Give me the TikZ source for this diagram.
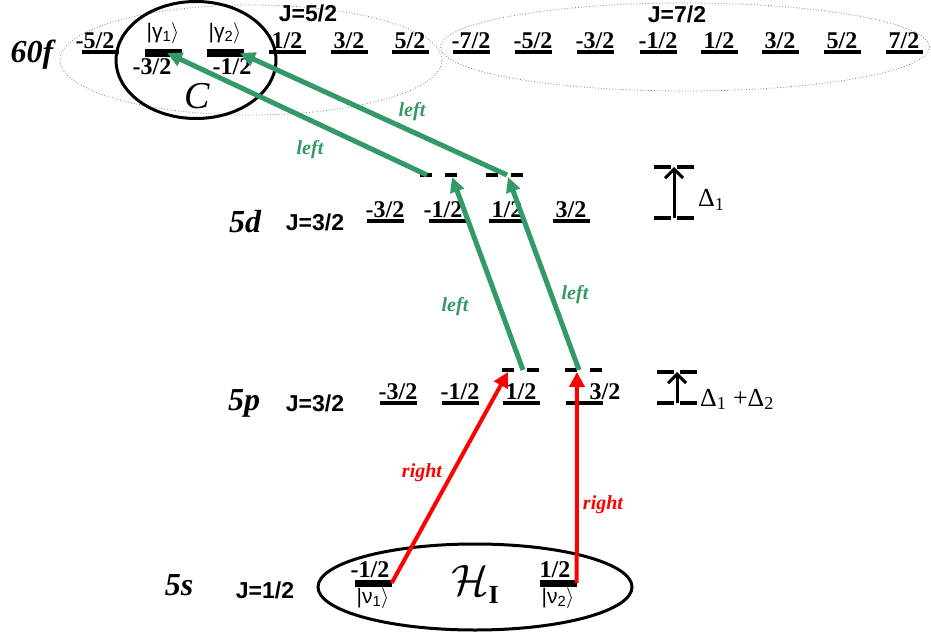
\RequirePackage{fix-cm}
\documentclass[tikz,border=0pt]{standalone}
\usepackage{fontspec}
\setmainfont{Liberation Serif}
\setsansfont{Liberation Sans}
\usepackage{tikz}
\usetikzlibrary{shapes.geometric,arrows.meta,positioning}
\definecolor{lgreen}{RGB}{51,153,102}
\tikzset{
  lev/.style={fill=black,inner sep=0pt,minimum width=37pt,minimum height=4pt},
  hbar/.style={fill=black,inner sep=0pt,minimum width=37pt,minimum height=8pt},
  mj/.style={font=\bfseries\fontsize{24}{24}\selectfont,inner sep=1pt},
  ket/.style={font=\sffamily\fontsize{21}{21}\selectfont,inner sep=1pt},
  jlab/.style={font=\sffamily\bfseries\fontsize{23}{23}\selectfont,inner sep=0pt,anchor=base},
  shell/.style={font=\bfseries\itshape\fontsize{32}{32}\selectfont,inner sep=0pt,anchor=base},
  vlev/.style={line width=4pt,dash pattern=on 12pt off 13pt},
  gapl/.style={line width=4pt,dash pattern=on 17pt off 6pt},
  grp/.style={draw,ellipse,line width=3pt,inner sep=0pt},
  zone/.style={draw=gray,ellipse,dotted,line width=0.8pt,inner sep=0pt},
  garr/.style={-{Triangle[length=15pt,width=14pt]},line width=5pt,lgreen},
  rarr/.style={-{Triangle[length=15pt,width=15pt]},line width=4pt,red},
  darr/.style={-{Straight Barb[length=9pt,width=18pt]},line width=3pt},
  pol/.style={font=\bfseries\itshape\fontsize{20}{20}\selectfont,inner sep=0pt},
  dlab/.style={font=\fontsize{26}{26}\selectfont,inner sep=0pt,anchor=base west},
}

\begin{document}
\begin{tikzpicture}[x=1pt,y=-1pt]
  \useasboundingbox (0,0) rectangle (931,639);
  %% groups
  \node[zone,minimum width=382pt,minimum height=110pt] (z52) at (251,60) {};
  \node[zone,minimum width=489pt,minimum height=88pt]  (z72) at (685,47) {};
  \node[grp,minimum width=160pt,minimum height=117pt]  (cset) at (196,60) {};
  \node[grp,minimum width=314pt,minimum height=86pt]   (hset) at (475,587) {};
  \node[font=\itshape\fontsize{38}{38}\selectfont] (clab) at (197,96) {C};
  \node (hlab) at (475,584) {\fontsize{44}{44}\selectfont$\mathcal{H}$\raisebox{-8pt}{\bfseries\fontsize{26}{26}\selectfont I}};

  %% shell names
  \node[shell] (n60f) at (32,63)  {60f};
  \node[shell] (n5d)  at (245,232) {5d};
  \node[shell] (n5p)  at (244,410) {5p};
  \node[shell] (n5s)  at (179,595) {5s};
  \node[jlab]  (j52)  at (308,22)  {J=5/2};
  \node[jlab]  (j72)  at (677,23)  {J=7/2};
  \node[jlab]  (j5d)  at (315,230) {J=3/2};
  \node[jlab]  (j5p)  at (315,411) {J=3/2};
  \node[jlab]  (j5s)  at (265,598) {J=1/2};

  %% 60f, J=5/2
  \node[lev,label={[mj,xshift=-5pt]above:-5/2}] (fa1) at (100,52) {};
  \node[hbar,label={[ket,label distance=4pt]above:|γ\textsubscript{1}$\rangle$},
        label={[mj,xshift=-11pt]below:-3/2}]     (g1)  at (163,53) {};
  \node[hbar,label={[ket,label distance=4pt]above:|γ\textsubscript{2}$\rangle$},
        label={[mj,xshift=7pt]below:-1/2}]       (g2)  at (225,53) {};
  \node[lev,label={[mj]above:1/2}] (fa4) at (287,52) {};
  \node[lev,label={[mj]above:3/2}] (fa5) at (349,52) {};
  \node[lev,label={[mj]above:5/2}] (fa6) at (410,52) {};
  %% 60f, J=7/2
  \node[lev,label={[mj]above:-7/2}] (fb1) at (471,52) {};
  \node[lev,label={[mj]above:-5/2}] (fb2) at (533,52) {};
  \node[lev,label={[mj]above:-3/2}] (fb3) at (595,52) {};
  \node[lev,label={[mj]above:-1/2}] (fb4) at (658,52) {};
  \node[lev,label={[mj]above:1/2}]  (fb5) at (719,52) {};
  \node[lev,label={[mj]above:3/2}]  (fb6) at (780,52) {};
  \node[lev,label={[mj]above:5/2}]  (fb7) at (842,52) {};
  \node[lev,label={[mj]above:7/2}]  (fb8) at (904,52) {};
  %% 5d
  \node[lev,label={[mj]above:-3/2}]            (d1) at (385,221) {};
  \node[lev,label={[mj,xshift=-4pt]above:-1/2}] (d2) at (447,221) {};
  \node[lev,label={[mj]above:1/2}]             (d3) at (507,221) {};
  \node[lev,label={[mj]above:3/2}]             (d4) at (571,221) {};
  \draw[vlev] (420,175) -- ++(37,0);
  \draw[vlev] (486,175) -- ++(37,0);
  %% 5p
  \node[lev,label={[mj]above:-3/2}]             (p1) at (398,403) {};
  \node[lev,label={[mj]above:-1/2}]             (p2) at (460,403) {};
  \node[lev,label={[mj]above:1/2}]              (p3) at (521,403) {};
  \node[lev,label={[mj,xshift=21pt]above:3/2}]  (p4) at (584,403) {};
  \draw[vlev] (502,370) -- ++(37,0);
  \draw[vlev] (565,370) -- ++(37,0);
  %% 5s
  \node[hbar,minimum height=7pt,label={[mj,xshift=-3pt]above:-1/2},
        label={[ket]below:|ν\textsubscript{1}$\rangle$}] (nu1) at (373,583) {};
  \node[hbar,minimum height=7pt,label={[mj,xshift=-3pt]above:1/2},
        label={[ket]below:|ν\textsubscript{2}$\rangle$}] (nu2) at (558,583) {};

  %% detunings
  \draw[gapl] (654,167) -- ++(40,0);
  \draw[gapl] (654,218) -- ++(40,0);
  \coordinate (da0) at (674,218);
  \coordinate (da1) at (674,167);
  \draw[darr] (da0) -- (da1);
  \node[dlab] (dl1) at (698,207) {Δ\textsubscript{1}};
  \draw[gapl] (657,372) -- ++(40,0);
  \draw[gapl] (657,403) -- ++(40,0);
  \coordinate (db0) at (677,403);
  \coordinate (db1) at (677,372);
  \draw[darr] (db0) -- (db1);
  \node[dlab] (dl2) at (700,406) {Δ\textsubscript{1} +Δ\textsubscript{2}};

  %% virtual levels
  \coordinate (pv1) at (508,372);
  \coordinate (pv2) at (577,372);
  \coordinate (pg1) at (523,370);
  \coordinate (pg2) at (579,370);
  \coordinate (dv1) at (452,177);
  \coordinate (dv2) at (508,177);
  \coordinate (dg1) at (427,175);
  \coordinate (dg2) at (507,175);

  %% Edges
  \draw[rarr](nu1.east)--(pv1);
  \draw[rarr](nu2.east)--(pv2);
  \draw[garr](pg1)--(dv1);
  \draw[garr](pg2)--(dv2);
  \draw[garr](dg1)--([xshift=4pt]g1.center);
  \draw[garr](dg2)--([xshift=15pt]g2.center);

  %% polarisations
  \node[pol,red]    (r1) at (422,473) {right};
  \node[pol,red]    (r2) at (603,505) {right};
  \node[pol,lgreen] (l1) at (455,307) {left};
  \node[pol,lgreen] (l2) at (575,295) {left};
  \node[pol,lgreen] (l3) at (310,150) {left};
  \node[pol,lgreen] (l4) at (412,112) {left};
\end{tikzpicture}
\end{document}
